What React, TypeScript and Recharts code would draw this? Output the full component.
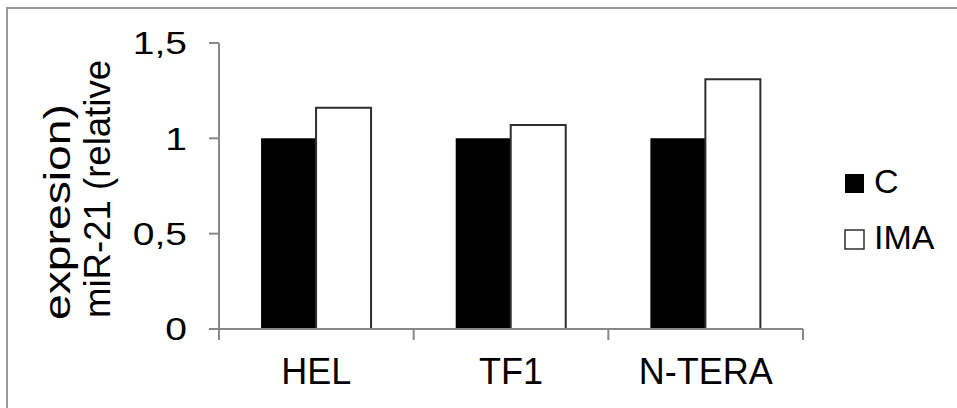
import React from 'react';
import { BarChart, Bar, XAxis, YAxis, Legend } from 'recharts';

const categories = ['HEL', 'TF1', 'N-TERA'];
const valuesC = [1, 1, 1];
const valuesIMA = [1.16, 1.07, 1.31];
const seriesNames = ['C', 'IMA'];
const yTicks = [0, 0.5, 1, 1.5];
const yTickLabels = ['0', '0,5', '1', '1,5'];
const yLabelLines = ['expresion)', 'miR-21 (relative'];

const data = categories.map((c, i) => ({
  name: c,
  [seriesNames[0]]: valuesC[i],
  [seriesNames[1]]: valuesIMA[i],
}));

const FONT = '"Liberation Sans", Arial, Helvetica, sans-serif';
const AXIS_GRAY = '#878787';
const FRAME_DARK = '#404040';

function CategoryTick(props: any) {
  const { x, y, payload, index, visibleTicksCount, width } = props;
  let half = payload && typeof payload.offset === 'number' && payload.offset > 0 ? payload.offset : 0;
  if (!half && width && visibleTicksCount) half = width / (2 * visibleTicksCount);
  const last = index === categories.length - 1;
  return (
    <g>
      <line x1={x - half} x2={x - half} y1={y} y2={y + 11} stroke={AXIS_GRAY} strokeWidth={2} />
      {last && <line x1={x + half} x2={x + half} y1={y} y2={y + 11} stroke={AXIS_GRAY} strokeWidth={2} />}
      <text x={x} y={y + 55} textAnchor="middle" fontSize={36} fontFamily={FONT} fill="#000">
        {payload.value}
      </text>
    </g>
  );
}

function ValueTick(props: any) {
  const { x, y, payload } = props;
  const idx = yTicks.indexOf(payload.value);
  const label = idx >= 0 ? yTickLabels[idx] : String(payload.value);
  return (
    <text
      transform={`translate(${x},${y}) scale(1.22,1)`}
      x={0}
      y={0}
      dy="0.355em"
      textAnchor="end"
      fontSize={32}
      fontFamily={FONT}
      fill="#000"
    >
      {label}
    </text>
  );
}

function YLabel() {
  return (
    <g>
      <text
        x={70}
        y={320}
        transform="rotate(-90 70 320)"
        textAnchor="start"
        fontSize={36}
        fontFamily={FONT}
        fill="#000"
        textLength={216}
        lengthAdjust="spacingAndGlyphs"
      >
        {yLabelLines[0]}
      </text>
      <text
        x={110}
        y={318}
        transform="rotate(-90 110 318)"
        textAnchor="start"
        fontSize={37}
        fontFamily={FONT}
        fill="#000"
        textLength={258}
        lengthAdjust="spacingAndGlyphs"
      >
        {yLabelLines[1]}
      </text>
    </g>
  );
}

function LegendContent(props: any) {
  const payload = props.payload || [];
  return (
    <svg width={154} height={110} style={{ overflow: 'visible', display: 'block' }}>
      {payload.map((p: any, i: number) => {
        const fill = (p.payload && p.payload.fill) || p.color;
        const stroke = p.payload && p.payload.stroke;
        return (
          <g key={i}>
            <rect
              x={42}
              y={25 + i * 56}
              width={19}
              height={19}
              fill={fill}
              stroke={stroke || 'none'}
              strokeWidth={stroke ? 1.5 : 0}
            />
            <text x={71} y={44 + i * 56} fontSize={34} fontFamily={FONT} fill="#000">
              {p.value}
            </text>
          </g>
        );
      })}
    </svg>
  );
}

export default function App() {
  return (
    <div style={{ position: 'absolute', left: 0, top: 0, width: 957, height: 408, background: '#fff' }}>
      <div
        style={{
          position: 'absolute',
          left: 6,
          top: 7,
          right: 0,
          bottom: 0,
          borderTop: '2px solid #9a9a9a',
          borderLeft: '2px solid #9a9a9a',
          boxSizing: 'border-box',
        }}
      />
      <div style={{ position: 'absolute', left: 0, top: 0 }}>
        <BarChart
          width={957}
          height={408}
          data={data}
          margin={{ top: 43, right: 54, bottom: 19, left: 119 }}
          barCategoryGap="21.6%"
          barGap={0}
        >
          <XAxis
            dataKey="name"
            height={60}
            tickLine={false}
            tickSize={0}
            tickMargin={0}
            axisLine={{ stroke: AXIS_GRAY, strokeWidth: 2 }}
            tick={<CategoryTick />}
            interval={0}
          />
          <XAxis
            xAxisId="top"
            dataKey="name"
            orientation="top"
            height={0}
            tick={false}
            tickLine={false}
            axisLine={{ stroke: FRAME_DARK, strokeWidth: 2 }}
          />
          <YAxis
            width={100}
            domain={[0, 1.5]}
            ticks={yTicks}
            interval={0}
            tickSize={10}
            tickMargin={22}
            tickLine={{ stroke: AXIS_GRAY, strokeWidth: 2 }}
            axisLine={{ stroke: AXIS_GRAY, strokeWidth: 2 }}
            tick={<ValueTick />}
            label={() => <YLabel />}
          />
          <YAxis
            yAxisId="right"
            orientation="right"
            width={0}
            domain={[0, 1.5]}
            tick={false}
            tickLine={false}
            axisLine={{ stroke: FRAME_DARK, strokeWidth: 2 }}
          />
          <Legend
            layout="vertical"
            align="right"
            verticalAlign="middle"
            width={100}
            height={110}
            wrapperStyle={{ width: 100, height: 110 }}
            content={<LegendContent />}
          />
          <Bar dataKey={seriesNames[0]} fill="#000000" isAnimationActive={false} />
          <Bar
            dataKey={seriesNames[1]}
            fill="#ffffff"
            stroke="#2e2e2e"
            strokeWidth={2}
            isAnimationActive={false}
          />
        </BarChart>
      </div>
    </div>
  );
}
